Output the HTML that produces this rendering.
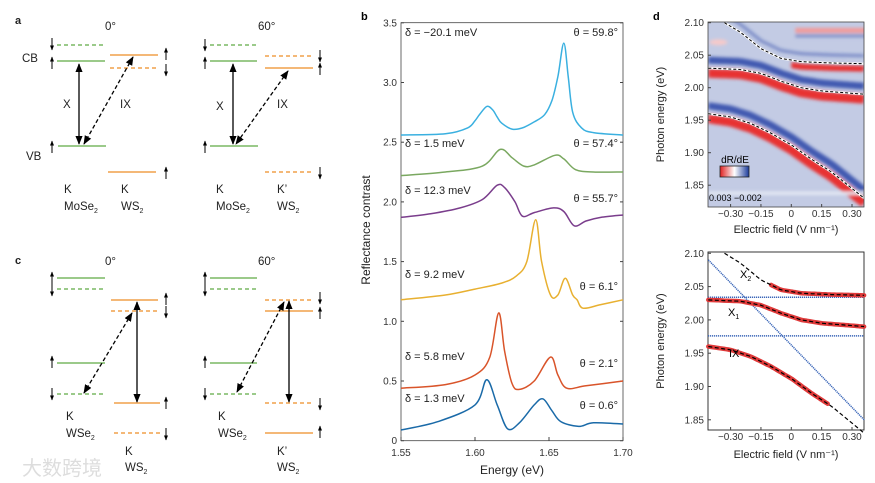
<!DOCTYPE html>
<html><head><meta charset="utf-8"><style>
body{margin:0;background:#fff}
svg{display:block;font-family:"Liberation Sans","Noto Sans CJK SC",sans-serif}
</style></head><body>
<svg id="fig" width="875" height="483" viewBox="0 0 875 483" xmlns="http://www.w3.org/2000/svg">
<defs>
<marker id="ah" viewBox="0 0 10 10" refX="9" refY="5" markerWidth="7" markerHeight="7" orient="auto-start-reverse"><path d="M0,1 L10,5 L0,9 Z" fill="#000"/></marker>
<marker id="sa" viewBox="0 0 10 10" refX="9" refY="5" markerWidth="5" markerHeight="6" orient="auto"><path d="M0,1 L10,5 L0,9 Z" fill="#000"/></marker>
<linearGradient id="cbar" x1="0" x2="1"><stop offset="0" stop-color="#e02020"/><stop offset="0.5" stop-color="#ffffff"/><stop offset="1" stop-color="#1a3a9a"/></linearGradient>
<clipPath id="hmclip"><rect x="708" y="22" width="156" height="185"/></clipPath>
<filter id="bl"><feGaussianBlur stdDeviation="1.5"/></filter>
</defs>
<g id="schem"></g>
<g id="pb"></g>
<g id="pd"></g>
<text x="22" y="475" font-size="20" fill="#ddd">大数跨境</text>
</svg>
<script>
// ---------- Panel b data ----------
const energyTicks=[1.55,1.60,1.65,1.70];
const energyTickLabels=["1.55","1.60","1.65","1.70"];
const rcTicks=[0,0.5,1.0,1.5,2.0,2.5,3.0,3.5];
const rcTickLabels=["0","0.5","1.0","1.5","2.0","2.5","3.0","3.5"];
const cyanE=[1.55,1.58,1.595,1.60,1.603,1.608,1.612,1.615,1.618,1.625,1.632,1.64,1.647,1.652,1.656,1.66,1.663,1.666,1.672,1.68,1.70];
const cyanR=[2.56,2.57,2.62,2.68,2.73,2.80,2.77,2.71,2.66,2.61,2.62,2.67,2.73,2.85,3.05,3.33,3.05,2.75,2.62,2.58,2.56];
const greenE=[1.55,1.58,1.605,1.617,1.625,1.633,1.64,1.654,1.66,1.668,1.68,1.70];
const greenR=[2.22,2.25,2.30,2.44,2.37,2.30,2.31,2.39,2.36,2.27,2.25,2.25];
const purpleE=[1.55,1.57,1.59,1.605,1.615,1.62,1.627,1.632,1.64,1.653,1.66,1.667,1.675,1.685,1.70];
const purpleR=[1.87,1.90,1.95,2.02,2.14,2.12,2.00,1.88,1.91,1.95,1.92,1.80,1.84,1.87,1.89];
const yellowE=[1.55,1.58,1.60,1.618,1.628,1.635,1.641,1.645,1.651,1.656,1.661,1.666,1.669,1.673,1.685,1.70];
const yellowR=[1.18,1.22,1.27,1.32,1.38,1.50,1.85,1.50,1.22,1.22,1.36,1.22,1.18,1.11,1.14,1.18];
const redE=[1.55,1.58,1.60,1.61,1.616,1.62,1.625,1.63,1.64,1.651,1.656,1.662,1.675,1.70];
const redR=[0.44,0.47,0.55,0.70,1.07,0.75,0.48,0.43,0.50,0.70,0.55,0.44,0.46,0.50];
const blueE=[1.55,1.575,1.60,1.608,1.615,1.622,1.63,1.64,1.646,1.652,1.658,1.67,1.68,1.70];
const blueR=[0.09,0.16,0.30,0.51,0.30,0.10,0.15,0.30,0.35,0.25,0.16,0.12,0.15,0.14];
const deltaLabels=["δ = −20.1 meV","δ = 1.5 meV","δ = 12.3 meV","δ = 9.2 meV","δ = 5.8 meV","δ = 1.3 meV"];
const thetaLabels=["θ = 59.8°","θ = 57.4°","θ = 55.7°","θ = 6.1°","θ = 2.1°","θ = 0.6°"];
// ---------- Panel d data ----------
const fieldTicks=[-0.30,-0.15,0,0.15,0.30];
const fieldTickLabels=["−0.30","−0.15","0","0.15","0.30"];
const photonTicks=[1.85,1.90,1.95,2.00,2.05,2.10];
const photonTickLabels=["1.85","1.90","1.95","2.00","2.05","2.10"];
const x2F=[-0.33,-0.25,-0.15,-0.05,0.05,0.2,0.36];
const x2E=[2.10,2.085,2.06,2.045,2.04,2.038,2.037];
const x1F=[-0.41,-0.25,-0.15,-0.05,0.05,0.15,0.36];
const x1E=[2.03,2.028,2.022,2.01,2.0,1.995,1.99];
const ixF=[-0.41,-0.3,-0.2,-0.1,0,0.1,0.2,0.3,0.36];
const ixE=[1.96,1.955,1.945,1.93,1.912,1.89,1.87,1.845,1.83];
const diagF=[-0.41,0.36];
const diagE=[2.09,1.85];
const flatE=[2.034,1.976];
const redRange=[[-0.10,0.36],[-0.41,0.36],[-0.41,0.18]];

const NS="http://www.w3.org/2000/svg";
function mk(tag,attrs,parent,txt){const e=document.createElementNS(NS,tag);for(const k in attrs)e.setAttribute(k,attrs[k]);if(txt!==undefined)e.textContent=txt;parent.appendChild(e);return e;}
function smooth(pts){let d="M"+pts[0][0].toFixed(1)+","+pts[0][1].toFixed(1);for(let i=0;i<pts.length-1;i++){const p0=pts[Math.max(0,i-1)],p1=pts[i],p2=pts[i+1],p3=pts[Math.min(pts.length-1,i+2)];const c1=[p1[0]+(p2[0]-p0[0])/6,p1[1]+(p2[1]-p0[1])/6],c2=[p2[0]-(p3[0]-p1[0])/6,p2[1]-(p3[1]-p1[1])/6];d+=" C"+c1[0].toFixed(1)+","+c1[1].toFixed(1)+" "+c2[0].toFixed(1)+","+c2[1].toFixed(1)+" "+p2[0].toFixed(1)+","+p2[1].toFixed(1);}return d;}
function interp(xs,ys,x){if(x<=xs[0])return ys[0];for(let i=0;i<xs.length-1;i++){if(x<=xs[i+1]){const t=(x-xs[i])/(xs[i+1]-xs[i]);return ys[i]+t*(ys[i+1]-ys[i]);}}return ys[ys.length-1];}

// ---------- Schematics ----------
const S=document.getElementById('schem');
const G="#7ab863",O="#f0a04a";
function lvl(x1,x2,y,c,dash){const e=mk('line',{x1:x1,x2:x2,y1:y,y2:y,stroke:c,'stroke-width':1.4,'stroke-dasharray':dash?'4,3':'none'},S);}
function spin(x,y,up){const e=mk('line',{x1:x,x2:x,y1:up?y+6:y-6,y2:up?y-6:y+6,stroke:'#000','stroke-width':1,'marker-end':'url(#sa)'},S);}
function arr(x1,y1,x2,y2,dash){const e=mk('line',{x1:x1,y1:y1,x2:x2,y2:y2,stroke:'#000','stroke-width':1.3,'stroke-dasharray':dash?'4,2.5':'none','marker-start':'url(#ah)','marker-end':'url(#ah)'},S);}
function t(x,y,s,fs,w,anchor){const e=mk('text',{x:x,y:y,'font-size':fs||11.5,'font-weight':w||'normal','text-anchor':anchor||'start',fill:'#222'},S,s);return e;}
function sub(x,y,base,s){const e=t(x,y,base,11.5);mk('tspan',{'font-size':7,dy:3},e,s);}
t(15,24,"a",11,"bold");t(105,30,"0°");t(258,30,"60°");
t(22,62,"CB");t(26,160,"VB");
lvl(57,105,45,G,1);lvl(57,105,61,G,0);lvl(110,158,55,O,0);lvl(110,158,68,O,1);lvl(58,106,146,G,0);lvl(108,156,172,O,0);
spin(52,44,false);spin(52,63,true);spin(52,147,true);spin(166,54,true);spin(166,70,false);spin(166,173,true);
arr(79,64,79,144,0);arr(133,57,84,144,1);t(63,108,"X");t(120,108,"IX");
t(64,193,"K");sub(64,210,"MoSe","2");t(121,193,"K");sub(121,210,"WS","2");
lvl(210,257,45,G,1);lvl(210,257,61,G,0);lvl(265,313,56,O,1);lvl(265,313,68,O,0);lvl(210,258,146,G,0);lvl(265,313,172,O,1);
spin(205,45,false);spin(205,63,true);spin(205,147,true);spin(320,56,false);spin(320,69,true);spin(320,173,false);
arr(233,64,233,144,0);arr(288,71,236,144,1);t(216,110,"X");t(277,108,"IX");
t(216,193,"K");sub(216,210,"MoSe","2");t(277,193,"K’");sub(277,210,"WS","2");
t(15,264,"c",11,"bold");t(105,265,"0°");t(258,265,"60°");
lvl(57,105,278,G,0);lvl(57,105,289,G,1);lvl(111,158,300,O,0);lvl(111,158,311,O,1);lvl(57,105,363,G,0);lvl(57,105,394,G,1);lvl(114,160,403,O,0);lvl(114,160,433,O,1);
spin(52,278,true);spin(52,290,false);spin(52,362,true);spin(52,394,false);spin(166,299,true);spin(166,312,false);spin(166,403,true);spin(166,434,false);
arr(137,302,137,402,0);arr(132,313,84,393,1);
t(66,420,"K");sub(66,437,"WSe","2");t(125,455,"K");sub(125,471,"WS","2");
lvl(210,257,278,G,0);lvl(210,257,289,G,1);lvl(265,313,300,O,1);lvl(265,313,311,O,0);lvl(210,257,363,G,0);lvl(210,257,394,G,1);lvl(265,313,403,O,1);lvl(265,313,433,O,0);
spin(205,278,true);spin(205,290,false);spin(205,362,true);spin(205,394,false);spin(320,298,false);spin(320,313,true);spin(320,404,false);spin(320,432,true);
arr(289,301,289,402,0);arr(284,302,237,392,1);
t(218,420,"K");sub(218,437,"WSe","2");t(277,455,"K’");sub(277,471,"WS","2");

// ---------- Panel b ----------
const B=document.getElementById('pb');
const bx=e=>401+(e-1.55)/0.15*222;
const by=v=>440.7-v*119.4;
mk('text',{x:361,y:20,'font-size':11,'font-weight':'bold'},B,'b');
mk('rect',{x:401,y:22.7,width:222,height:418,fill:'none',stroke:'#444','stroke-width':0.8},B);
rcTicks.forEach((v,i)=>{const l=mk('line',{x1:401,x2:404,y1:by(v),y2:by(v),stroke:'#444'},B);
 const r=mk('line',{x1:620,x2:623,y1:by(v),y2:by(v),stroke:'#444'},B);
 const tx=mk('text',{x:397,y:by(v)+3.5,'font-size':10,'text-anchor':'end',fill:'#333'},B,rcTickLabels[i]);});
energyTicks.forEach((v,i)=>{const l=mk('line',{x1:bx(v),x2:bx(v),y1:440.7,y2:437,stroke:'#444'},B);
 const tx=mk('text',{x:bx(v),y:456,'font-size':10,'text-anchor':'middle',fill:'#333'},B,energyTickLabels[i]);});
const xt=mk('text',{x:512,y:474,'font-size':12,'text-anchor':'middle',fill:'#222'},B,'Energy (eV)');
const yt=mk('text',{x:0,y:0,'font-size':12,'text-anchor':'middle',fill:'#222',transform:'translate(370,230) rotate(-90)'},B,'Reflectance contrast');
const series=[[cyanE,cyanR,'#3ab0e0'],[greenE,greenR,'#7aa860'],[purpleE,purpleR,'#7a3d8c'],[yellowE,yellowR,'#e8b030'],[redE,redR,'#d9542a'],[blueE,blueR,'#1a6aa8']];
const dY=[36,147,194,278,360,402],tY=[36,147,202,290,367,409];
series.forEach((s,i)=>{const pts=s[0].map((e,j)=>[bx(e),by(s[1][j])]);const p=mk('path',{d:smooth(pts),fill:'none',stroke:s[2],'stroke-width':1.5},B);
 const a=mk('text',{x:405,y:dY[i],'font-size':11,fill:'#222'},B,deltaLabels[i]);
 const b=mk('text',{x:618,y:tY[i],'font-size':11,'text-anchor':'end',fill:'#222'},B,thetaLabels[i]);});

// ---------- Panel d ----------
const D=document.getElementById('pd');
const dx=f=>791.3+f/0.3*60.7;
const dyT=e=>22.7+(2.10-e)/0.05*32.5;
const dyB=e=>253.3+(2.10-e)/0.05*33.3;
mk('text',{x:653,y:20,'font-size':11,'font-weight':'bold'},D,'d');
function curve(F,E,yf,f0,f1){const pts=[];const n=30;for(let k=0;k<=n;k++){const f=f0+(f1-f0)*k/n;if(f<F[0]-1e-9||f>F[F.length-1]+1e-9)continue;pts.push([dx(f),yf(interp(F,E,f))]);}return smooth(pts);}
const H=mk('g',{'clip-path':'url(#hmclip)'},D);
mk('rect',{x:708,y:22,width:156,height:185,fill:'#c3cbe4'},H);
const hm=mk('g',{filter:'url(#bl)'},H);
[[x2F,x2E],[x1F,x1E],[ixF,ixE]].forEach((c,i)=>{
 const off=mk('g',{transform:'translate(0,-8)'},hm);
 const pb=mk('path',{d:curve(c[0],c[1],dyT,c[0][0],c[0][c[0].length-1]),fill:'none',stroke:'#2a46a8','stroke-width':i==0?3:7,opacity:i==0?0.5:0.85},off);
 const off2=mk('g',{transform:'translate(0,5)'},hm);
 const pr=mk('path',{d:curve(c[0],c[1],dyT,i==0?0:c[0][0],c[0][c[0].length-1]),fill:'none',stroke:'#e83030','stroke-width':i==0?6:9},off2);});
mk('rect',{x:dx(0.02),y:dyT(2.092),width:90,height:5,fill:'#f29a9a'},hm);
mk('rect',{x:dx(0.02),y:dyT(2.082),width:90,height:3,fill:'#8090c8'},hm);
mk('ellipse',{cx:dx(-0.36),cy:dyT(2.07),rx:9,ry:3,fill:'#f6caca'},hm);
mk('rect',{x:708,y:dyT(1.84),width:156,height:3,fill:'#e8ecf6'},hm);
[[x2F,x2E],[x1F,x1E],[ixF,ixE]].forEach(c=>{const p=mk('path',{d:curve(c[0],c[1],dyT,c[0][0],c[0][c[0].length-1]),fill:'none',stroke:'#fff','stroke-width':2.2},H);
 const q=mk('path',{d:curve(c[0],c[1],dyT,c[0][0],c[0][c[0].length-1]),fill:'none',stroke:'#000','stroke-width':1,'stroke-dasharray':'3,2'},H);});
mk('rect',{x:708,y:22,width:156,height:185,fill:'none',stroke:'#444','stroke-width':0.8},D);
mk('rect',{x:720,y:166,width:29,height:11,fill:'url(#cbar)',stroke:'#222','stroke-width':0.8,},D);
mk('text',{x:735,y:163,'font-size':10,'text-anchor':'middle'},D,'dR/dE');
mk('text',{x:709,y:201,'font-size':9},D,'0.003 −0.002');
const BP=mk('g',{},D);
mk('rect',{x:708,y:252,width:156,height:178,fill:'#fff',stroke:'#222','stroke-width':0.9},BP);
const dl=mk('line',{x1:dx(diagF[0]),y1:dyB(diagE[0]),x2:dx(diagF[1]),y2:dyB(diagE[1]),stroke:'#3a66b8','stroke-width':1.5,'stroke-dasharray':'1.2,0.8'},BP);
flatE.forEach(e=>{const l=mk('line',{x1:708,x2:864,y1:dyB(e),y2:dyB(e),stroke:'#3a66b8','stroke-width':1.6,'stroke-dasharray':'1.2,0.8'},BP);});
[[x2F,x2E],[x1F,x1E],[ixF,ixE]].forEach((c,i)=>{const r=mk('path',{d:curve(c[0],c[1],dyB,redRange[i][0],redRange[i][1]),fill:'none',stroke:'#e03a3a','stroke-width':4.5,'stroke-linecap':'round'},BP);
 const q=mk('path',{d:curve(c[0],c[1],dyB,c[0][0],c[0][c[0].length-1]),fill:'none',stroke:'#000','stroke-width':1.2,'stroke-dasharray':'4,2.5'},BP);});
const lx2=mk('text',{x:740,y:278,'font-size':11},BP,'X');mk('tspan',{'font-size':7,dy:3},lx2,'2');
const lx1=mk('text',{x:728,y:316,'font-size':11},BP,'X');mk('tspan',{'font-size':7,dy:3},lx1,'1');
mk('text',{x:729,y:357,'font-size':11},BP,'IX');
[[dyT,212,228],[dyB,440,458]].forEach((ax,k)=>{
 const yf=ax[0];const top=k==0?22:252,bot=k==0?207:430;
 fieldTicks.forEach((f,i)=>{mk('line',{x1:dx(f),x2:dx(f),y1:bot,y2:bot-3,stroke:'#444'},D);const tx=mk('text',{x:dx(f),y:ax[1]+(k==0?5:0),'font-size':10,'text-anchor':'middle',fill:'#333'},D,fieldTickLabels[i]);});
 photonTicks.forEach((e,i)=>{const y=yf(e);if(y<top-1||y>bot)return;mk('line',{x1:708,x2:711,y1:y,y2:y,stroke:'#444'},D);const tx=mk('text',{x:704,y:y+3.5,'font-size':10,'text-anchor':'end',fill:'#333'},D,photonTickLabels[i]);});
 const ttl=mk('text',{x:786,y:ax[2]+(k==0?5:0),'font-size':11,'text-anchor':'middle',fill:'#222'},D,'Electric field (V nm⁻¹)');
 const yt=mk('text',{x:0,y:0,'font-size':11,'text-anchor':'middle',fill:'#222',transform:'translate(664,'+((top+bot)/2)+') rotate(-90)'},D,'Photon energy (eV)');
});
</script>
</body></html>
